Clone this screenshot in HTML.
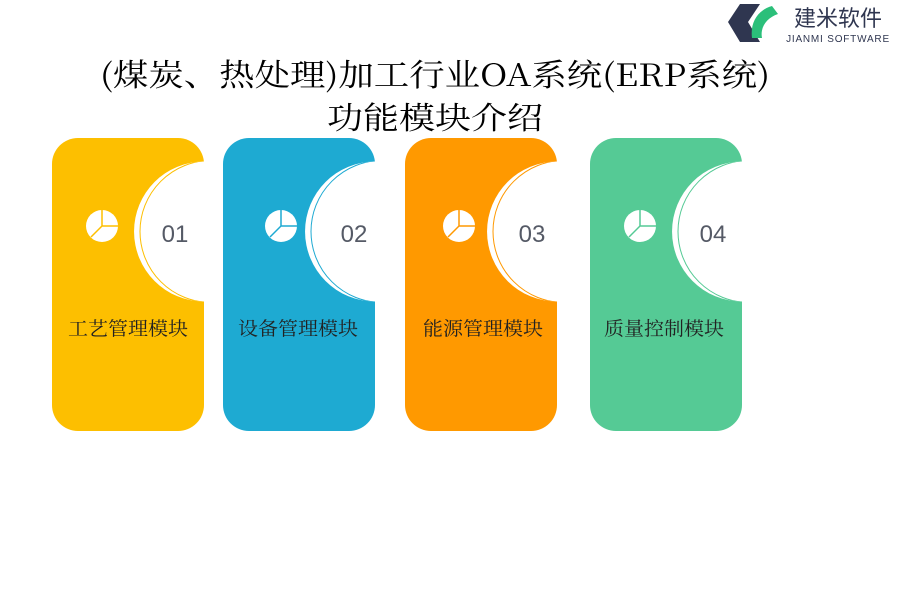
<!DOCTYPE html>
<html><head><meta charset="utf-8"><style>
body{margin:0;background:#fff;width:900px;height:600px;overflow:hidden}
</style></head><body>
<svg width="900" height="600" xmlns="http://www.w3.org/2000/svg" style="position:absolute;left:0;top:0">
<g font-family="'Noto Serif CJK SC','Liberation Serif',serif" font-size="31" fill="#000">
<text x="100" y="86" textLength="670" lengthAdjust="spacingAndGlyphs">(煤炭、热处理)加工行业OA系统(ERP系统)</text>
<text x="327" y="129" textLength="216" lengthAdjust="spacingAndGlyphs">功能模块介绍</text>
</g>
<!-- logo -->
<g>
<polygon points="740,4 760,4 748,22 760,42 740,42 728,22" fill="#2f3650"/>
<path d="M752,38 C750,22 758,10 772,6 L778,14 C766,18 760,28 762,38 Z" fill="#2bbf7a"/>
<text x="838" y="26" font-family="'Noto Sans CJK SC',sans-serif" font-size="22" fill="#2f3650" text-anchor="middle">建米软件</text>
<text x="838" y="42" font-family="'Liberation Sans',sans-serif" font-size="10" fill="#2f3650" text-anchor="middle" letter-spacing="0.8">JIANMI SOFTWARE</text>
</g>
<defs>
<clipPath id="c1"><circle cx="204" cy="231.5" r="70"/></clipPath>
<clipPath id="c2"><circle cx="375" cy="231.5" r="70"/></clipPath>
<clipPath id="c3"><circle cx="557" cy="231.5" r="70"/></clipPath>
<clipPath id="c4"><circle cx="742" cy="231.5" r="70"/></clipPath>
</defs>
<g>
<rect x="52" y="138" width="152" height="293" rx="26" fill="#FDBF00"/>
<rect x="223" y="138" width="152" height="293" rx="26" fill="#1EAAD2"/>
<rect x="405" y="138" width="152" height="293" rx="26" fill="#FF9900"/>
<rect x="590" y="138" width="152" height="293" rx="26" fill="#55CA95"/>
<path d="M204,161.5 A70,70 0 0 0 204,301.5 Z" fill="#fff"/>
<path d="M375,161.5 A70,70 0 0 0 375,301.5 Z" fill="#fff"/>
<path d="M557,161.5 A70,70 0 0 0 557,301.5 Z" fill="#fff"/>
<path d="M742,161.5 A70,70 0 0 0 742,301.5 Z" fill="#fff"/>
<circle cx="211" cy="231.5" r="71" fill="none" stroke="#FDBF00" stroke-width="1" clip-path="url(#c1)"/>
<circle cx="382" cy="231.5" r="71" fill="none" stroke="#1EAAD2" stroke-width="1" clip-path="url(#c2)"/>
<circle cx="564" cy="231.5" r="71" fill="none" stroke="#FF9900" stroke-width="1" clip-path="url(#c3)"/>
<circle cx="749" cy="231.5" r="71" fill="none" stroke="#55CA95" stroke-width="1" clip-path="url(#c4)"/>
</g>
<g stroke-width="1.5">
<circle cx="102" cy="226" r="16" fill="#fff"/><path d="M102,210 V226 H118 M102,226 L91,237" stroke="#FDBF00" fill="none"/>
<circle cx="281" cy="226" r="16" fill="#fff"/><path d="M281,210 V226 H297 M281,226 L270,237" stroke="#1EAAD2" fill="none"/>
<circle cx="459" cy="226" r="16" fill="#fff"/><path d="M459,210 V226 H475 M459,226 L448,237" stroke="#FF9900" fill="none"/>
<circle cx="640" cy="226" r="16" fill="#fff"/><path d="M640,210 V226 H656 M640,226 L629,237" stroke="#55CA95" fill="none"/>
</g>
<g font-family="'Liberation Sans',sans-serif" font-size="24" fill="#555a66" text-anchor="middle">
<text x="175" y="242">01</text>
<text x="354" y="242">02</text>
<text x="532" y="242">03</text>
<text x="713" y="242">04</text>
</g>
<g font-family="'Noto Serif CJK SC','Liberation Serif',serif" font-size="19" fill="#222">
<text x="68" y="335" textLength="120" lengthAdjust="spacingAndGlyphs">工艺管理模块</text>
<text x="238" y="335" textLength="120" lengthAdjust="spacingAndGlyphs">设备管理模块</text>
<text x="423" y="335" textLength="120" lengthAdjust="spacingAndGlyphs">能源管理模块</text>
<text x="604" y="335" textLength="120" lengthAdjust="spacingAndGlyphs">质量控制模块</text>
</g>
</svg>
</body></html>
